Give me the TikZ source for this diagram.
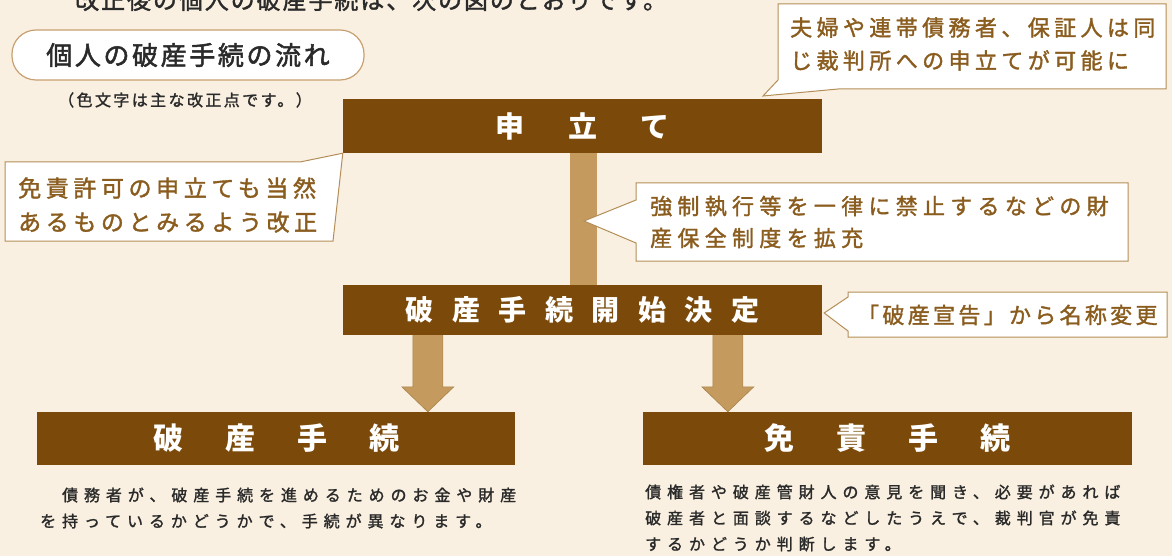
\documentclass[tikz,border=0pt]{standalone}
\usepackage{fontspec}
\setmainfont{Noto Sans CJK JP}
\usetikzlibrary{calc}
\definecolor{bg}{HTML}{FAF0E1}
\definecolor{darkbox}{HTML}{7B4A0A}
\definecolor{stemfill}{HTML}{C49A5E}
\definecolor{stemline}{HTML}{A8824A}
\definecolor{cobord}{HTML}{B48E58}
\definecolor{cotext}{HTML}{8A5C1E}
\definecolor{bodytext}{HTML}{2A2A2A}
\definecolor{pillbord}{HTML}{C9A072}
\newcommand\gapA{\hspace{44pt}}
\newcommand\gapB{\hspace{18.5pt}}
\newcommand\gapC{\hspace{42pt}}
\tikzset{
  titlebox/.style={fill=darkbox, text=white, inner sep=0pt, font=\fontsize{29}{29}\selectfont\bfseries},
  calloutshape/.style={draw=cobord, fill=white, line width=1pt, line join=miter},
  callouttext/.style={text=cotext, align=left, inner sep=0pt, anchor=west},
  bodystyle/.style={text=bodytext, align=left, inner sep=0pt, anchor=west,
    font=\fontsize{16}{26}\selectfont\addfontfeatures{LetterSpace=37,FakeBold=1.5}},
  flowarrow/.style={fill=stemfill, draw=stemline, line width=0.6pt},
  pill/.style={draw=pillbord, fill=white, line width=1.2pt, rounded corners=24pt,
    minimum width=352pt, minimum height=50pt, inner sep=0pt, text=bodytext,
    font=\fontsize{26}{26}\selectfont\addfontfeatures{LetterSpace=10,FakeBold=2}},
}
\begin{document}
\begin{tikzpicture}[x=1pt,y=-1pt]
\fill[bg] (0,0) rectangle (1172,556);
\useasboundingbox (0,0) rectangle (1172,556);

% heading line, cut off at the top edge as in the reference
\node[anchor=base west, inner sep=0pt, text=bodytext,
  font=\fontsize{24}{24}\selectfont\addfontfeatures{LetterSpace=8,FakeBold=1.5}] (intro) at (75,9)
  {改正後の個人の破産手続は、次の図のとおりです。};

% title pill and note
\node[pill] (flowtitle) at (188,55) {個人の破産手続の流れ};
\node[anchor=west, inner sep=0pt, text=bodytext,
  font=\fontsize{16}{16}\selectfont\addfontfeatures{LetterSpace=15,FakeBold=1.5}] (noteline) at (58,100)
  {（色文字は主な改正点です。）};

% main boxes
\node[titlebox, minimum width=479pt, minimum height=54pt] (tate) at (582.5,126) {申\gapA 立\gapA て};
\node[titlebox, minimum width=479pt, minimum height=50pt, font=\fontsize{28}{28}\selectfont\bfseries] (kaishi) at (582.5,310)
  {破\gapB 産\gapB 手\gapB 続\gapB 開\gapB 始\gapB 決\gapB 定};
\node[titlebox, minimum width=478pt, minimum height=53pt, font=\fontsize{30}{30}\selectfont\bfseries] (hasan) at (276,438.5)
  {破\gapC 産\gapC 手\gapC 続};
\node[titlebox, minimum width=489pt, minimum height=53pt, font=\fontsize{30}{30}\selectfont\bfseries] (menseki) at (887.5,438.5)
  {免\gapC 責\gapC 手\gapC 続};

% stem between tate and kaishi
\draw[stemfill, line width=27pt] ($(tate.south)+(1,0)$) -- ($(kaishi.north)+(1,0)$);

% arrows down
\coordinate (a1s) at ($(kaishi.south west)+(85,0)$);
\coordinate (a1e) at (a1s |- hasan.north);
\coordinate (a2s) at ($(kaishi.south west)+(385,0)$);
\coordinate (a2e) at (a2s |- menseki.north);
\filldraw[flowarrow] ($(a1s)+(-15,0)$) -- ($(a1e)+(-15,-25)$) -- ($(a1e)+(-26,-25)$) -- (a1e)
  -- ($(a1e)+(26,-25)$) -- ($(a1e)+(15,-25)$) -- ($(a1s)+(15,0)$);
\filldraw[flowarrow] ($(a2s)+(-15,0)$) -- ($(a2e)+(-15,-25)$) -- ($(a2e)+(-26,-25)$) -- (a2e)
  -- ($(a2e)+(26,-25)$) -- ($(a2e)+(15,-25)$) -- ($(a2s)+(15,0)$);

% callouts
\coordinate (c1tip) at (763,96);
\draw[calloutshape] (778,4) -- (1166,4) -- (1166,89) -- (838,89) -- (c1tip) -- (778,80) -- cycle;
\node[callouttext, font=\fontsize{22}{33}\selectfont\addfontfeatures{LetterSpace=20,FakeBold=1.5}] (c1) at (790,44)
  {夫婦や連帯債務者、保証人は同\\じ裁判所への申立てが可能に};

\draw[calloutshape] (5,162) -- (300,162) -- (tate.south west) -- (333,241) -- (5,241) -- cycle;
\node[callouttext, font=\fontsize{23}{34}\selectfont\addfontfeatures{LetterSpace=20,FakeBold=1.5}] (c2) at (18,205)
  {免責許可の申立ても当然\\あるものとみるよう改正};

\coordinate (c3tip) at (584,221);
\draw[calloutshape] (636,183) -- (1128,183) -- (1128,261) -- (636,261) -- (636,243) -- (c3tip) -- (636,200) -- cycle;
\node[callouttext, font=\fontsize{22}{32}\selectfont\addfontfeatures{LetterSpace=24,FakeBold=1.5}] (c3) at (650,222)
  {強制執行等を一律に禁止するなどの財\\産保全制度を拡充};

\coordinate (c4tip) at ($(kaishi.east)+(2,3)$);
\draw[calloutshape] (848,292) -- (1167,292) -- (1167,337) -- (848,337) -- (848,331) -- (c4tip) -- (848,297) -- cycle;
\node[callouttext, font=\fontsize{22}{22}\selectfont\addfontfeatures{LetterSpace=15,FakeBold=1.5}] (c4) at (857,315)
  {「破産宣告」から名称変更};

% descriptions
\node[bodystyle] (hasandesc) at (40,508)
  {　債務者が、破産手続を進めるためのお金や財産\\を持っているかどうかで、手続が異なります。};
\node[bodystyle] (mensekidesc) at (645,518)
  {債権者や破産管財人の意見を聞き、必要があれば\\破産者と面談するなどしたうえで、裁判官が免責\\するかどうか判断します。};
\end{tikzpicture}
\end{document}
